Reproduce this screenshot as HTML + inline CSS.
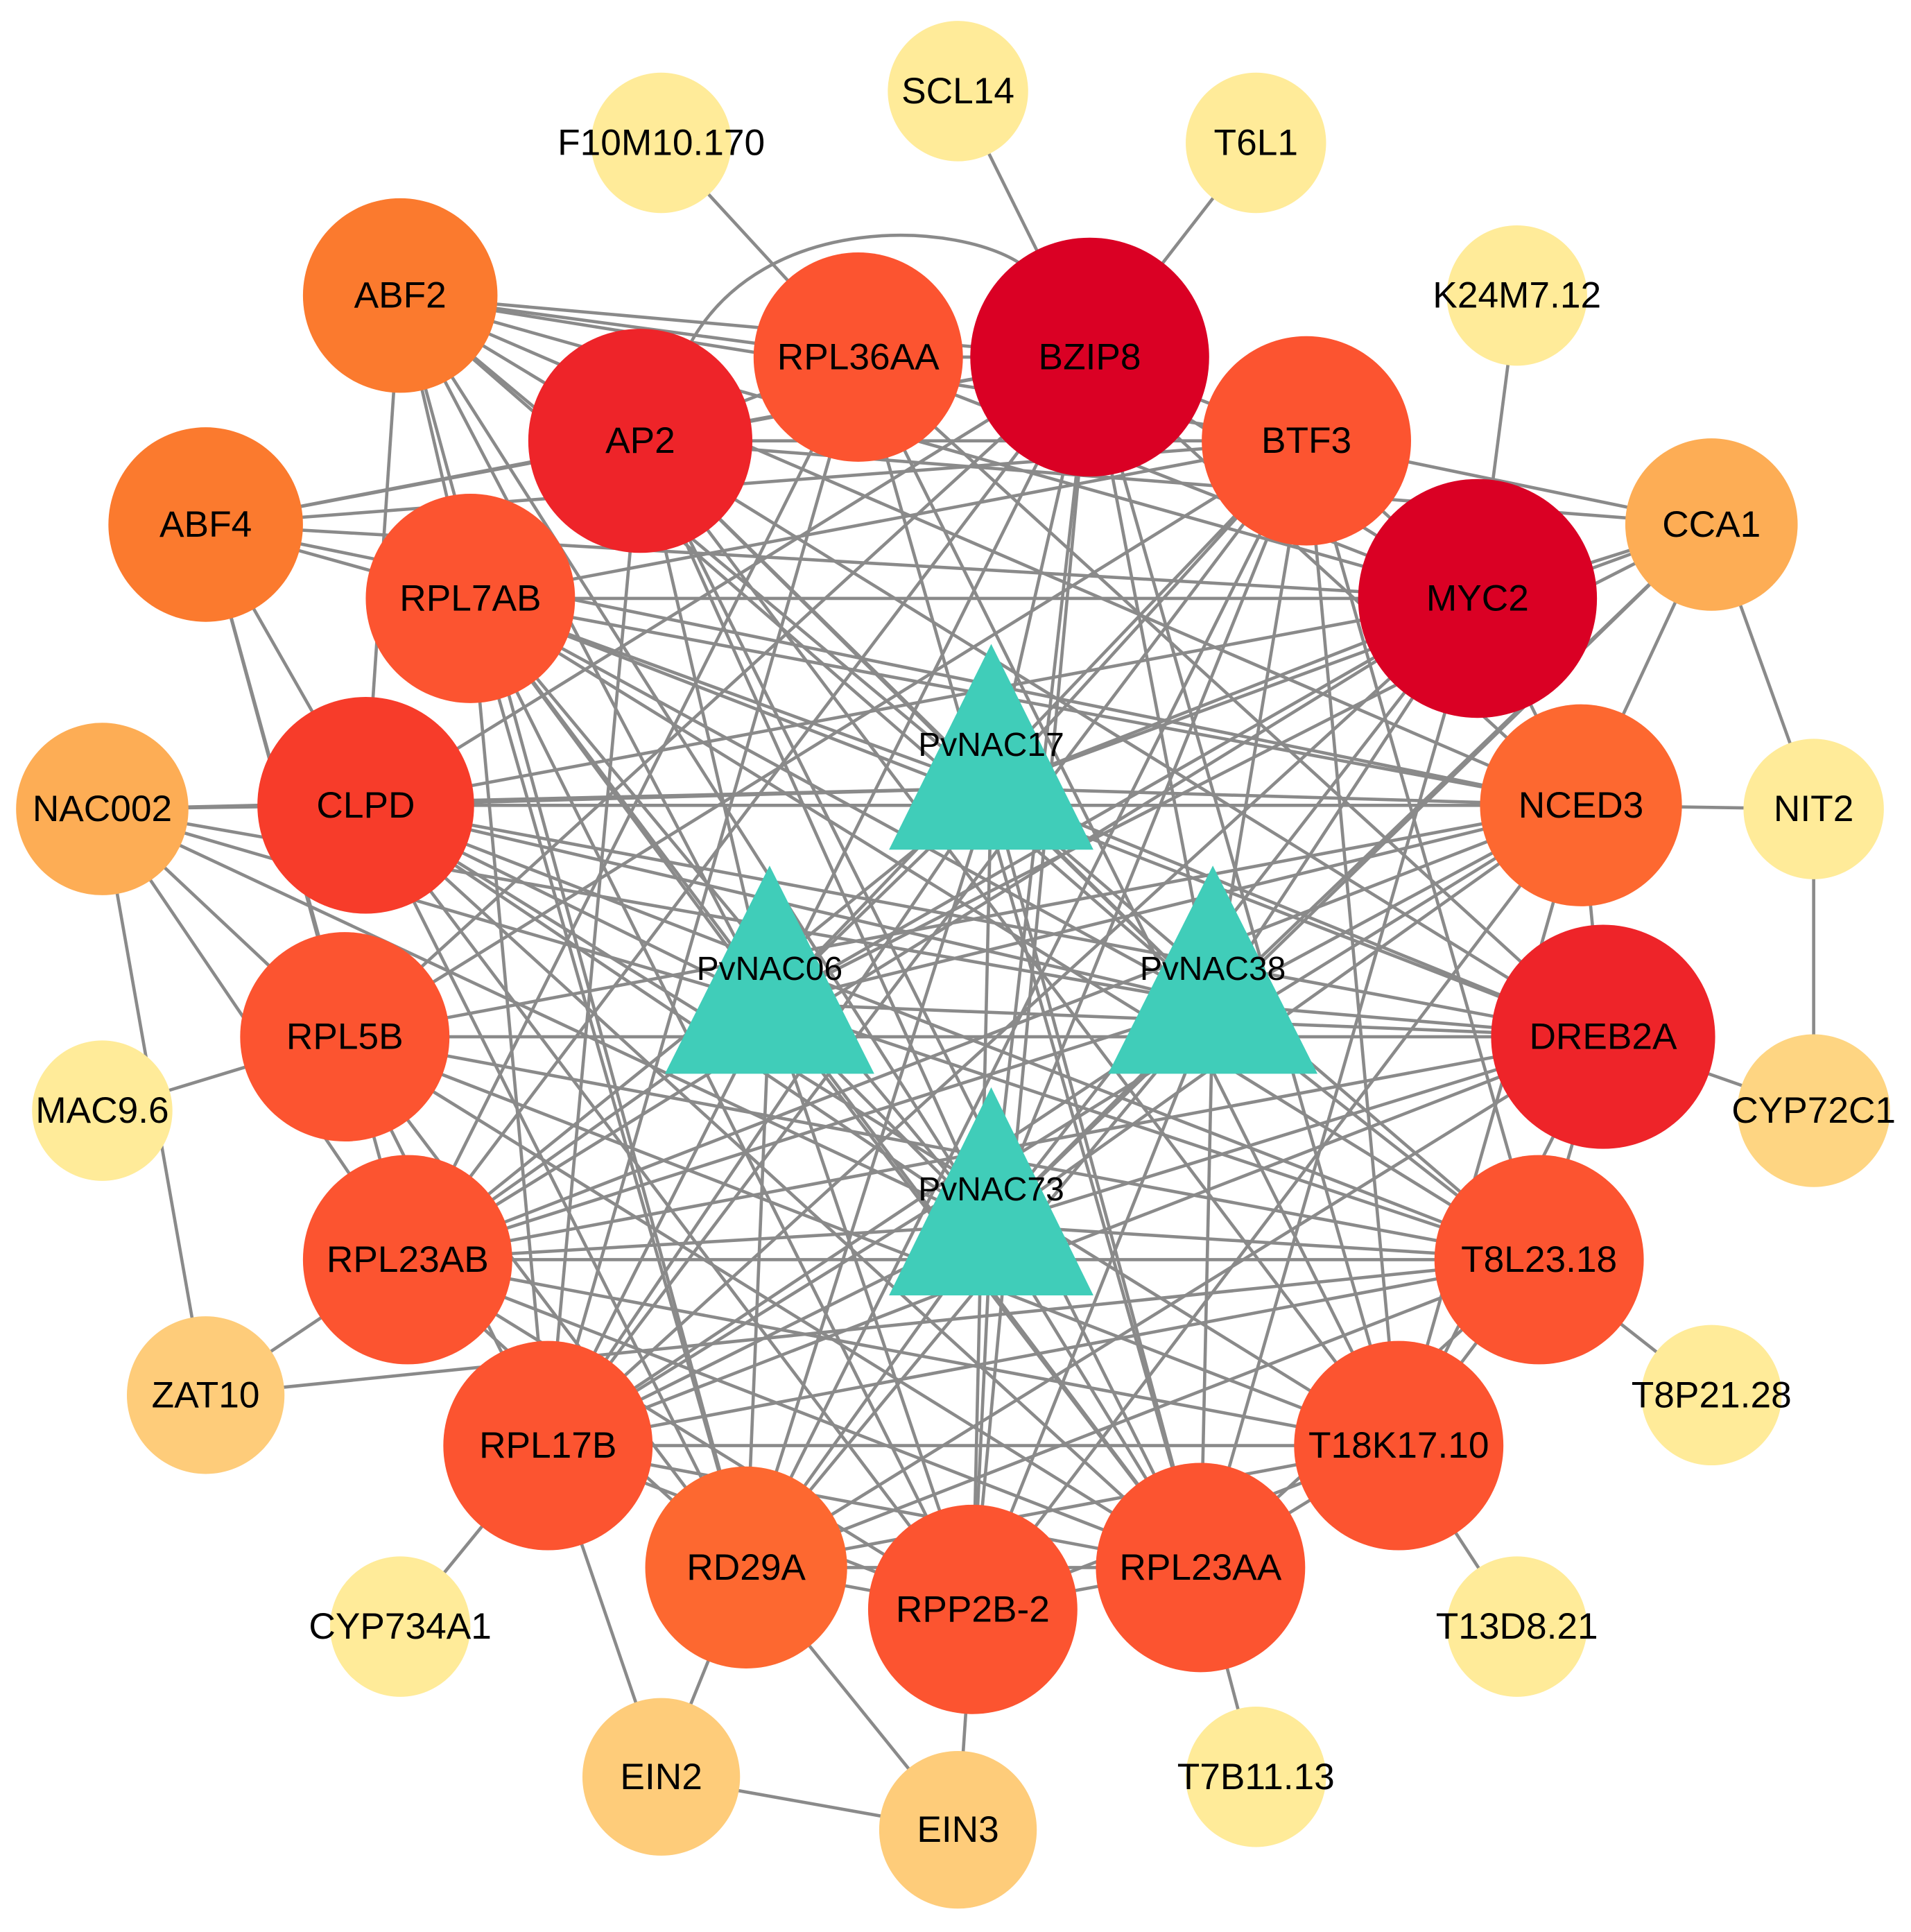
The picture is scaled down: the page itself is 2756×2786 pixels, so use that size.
<!DOCTYPE html>
<html><head><meta charset="utf-8">
<style>
html,body{margin:0;padding:0;background:#fff;}
svg{display:block;}
text{font-family:"Liberation Sans",Arial,sans-serif;font-size:30px;fill:#000;text-anchor:middle;dominant-baseline:central;}
</style></head>
<body>
<svg id="s" width="2756" height="2786" viewBox="0 0 1552 1569" xmlns="http://www.w3.org/2000/svg">
<g id="edges" stroke="#8a8a8a" stroke-width="2.6" fill="none"></g>
<g id="nodes"></g>
</svg>
<script>
const Y='#FFEB99';
const N={
'SCL14':[778,74,57,Y],'F10M10.170':[537,116,57,Y],'T6L1':[1020,116,57,Y],'K24M7.12':[1232,240,57,Y],
'ABF2':[325,240,79,'#FB7A2E'],'RPL36AA':[697,290,85,'#FC5430'],'BZIP8':[885,290,97,'#DA0024'],
'AP2':[520,358,91,'#EE2429'],'BTF3':[1061,358,85,'#FC5430'],'CCA1':[1390,426,70,'#FDAD55'],
'ABF4':[167,426,79,'#FB7A2E'],'RPL7AB':[382,486,85,'#FC5430'],'MYC2':[1200,486,97,'#DA0024'],
'NAC002':[83,657,70,'#FDAD55'],'CLPD':[297,654,88,'#F73C2A'],'NCED3':[1284,654,82,'#FD6830'],
'NIT2':[1473,657,57,Y],'RPL5B':[280,842,85,'#FC5430'],'DREB2A':[1302,842,91,'#EE2429'],
'MAC9.6':[83,902,57,Y],'CYP72C1':[1473,902,62,'#FED582'],'RPL23AB':[331,1023,85,'#FC5430'],
'T8L23.18':[1250,1023,85,'#FC5430'],'ZAT10':[167,1133,64,'#FECC7A'],'T8P21.28':[1390,1133,57,Y],
'RPL17B':[445,1174,85,'#FC5430'],'T18K17.10':[1136,1174,85,'#FC5430'],'CYP734A1':[325,1321,57,Y],
'T13D8.21':[1232,1321,57,Y],'RD29A':[606,1273,82,'#FD6830'],'RPP2B-2':[790,1307,85,'#FC5430'],
'RPL23AA':[975,1273,85,'#FC5430'],'EIN2':[537,1443,64,'#FECC7A'],'EIN3':[778,1486,64,'#FECC7A'],
'T7B11.13':[1020,1443,57,Y]
};
const T={'PvNAC17':[805,523,690,722,888,605],'PvNAC06':[625,703,872,540,710,787],
'PvNAC38':[985,703,872,900,1070,787],'PvNAC73':[805,883,1052,722,888,966]};
const TC={'PvNAC17':[805,640],'PvNAC06':[625,815],'PvNAC38':[985,815],'PvNAC73':[805,995]};
const inner=['ABF2','RPL36AA','BZIP8','AP2','BTF3','CCA1','ABF4','RPL7AB','MYC2','CLPD','NCED3','RPL5B','DREB2A','RPL23AB','T8L23.18','RPL17B','T18K17.10','RD29A','RPP2B-2','RPL23AA','NAC002','ZAT10'];
const E=[['F10M10.170','RPL36AA'],['SCL14','BZIP8'],['T6L1','BZIP8'],['K24M7.12','MYC2'],['CCA1','NIT2'],['NIT2','CYP72C1'],['NIT2','NCED3'],['CYP72C1','DREB2A'],['T8P21.28','T8L23.18'],['T13D8.21','T18K17.10'],['T7B11.13','RPL23AA'],['EIN3','RPP2B-2'],['EIN3','RD29A'],['EIN3','EIN2'],['EIN2','RD29A'],['EIN2','RPL17B'],['CYP734A1','RPL17B'],['NAC002','ZAT10'],['MAC9.6','RPL5B'],['NAC002','CLPD'],['NAC002','RPL5B'],['NAC002','RPL23AB'],['ZAT10','RPL23AB'],['ZAT10','T8L23.18'],['CCA1','MYC2'],['CCA1','BTF3'],['CCA1','AP2'],['CCA1','NCED3'],
['ABF2','RPL36AA'],['ABF2','BZIP8'],['ABF2','AP2'],['ABF2','RPL7AB'],['ABF2','CLPD'],['ABF2','BTF3'],['ABF2','MYC2'],['ABF2','RD29A'],['ABF2','NCED3'],
['ABF4','AP2'],['ABF4','RPL7AB'],['ABF4','CLPD'],['ABF4','RPL5B'],['ABF4','MYC2'],['ABF4','BTF3'],['ABF4','NCED3'],['ABF4','RPL23AB'],['ABF4','BZIP8'],
['AP2','BZIP8'],['AP2','RPL36AA'],['AP2','BTF3'],['AP2','RPL23AA'],['AP2','RPL17B'],['AP2','T18K17.10'],['AP2','DREB2A'],
['RPL36AA','BZIP8'],['RPL36AA','RPL23AA'],['RPL36AA','RPL17B'],['RPL36AA','T18K17.10'],['RPL36AA','DREB2A'],['RPL36AA','RPL23AB'],['RPL36AA','MYC2'],
['BZIP8','MYC2'],['BZIP8','BTF3'],['BZIP8','RPL5B'],['BZIP8','RPL23AB'],['BZIP8','RPP2B-2'],['BZIP8','T18K17.10'],['BZIP8','CLPD'],['BZIP8','NCED3'],
['BTF3','MYC2'],['BTF3','RPL5B'],['BTF3','RPL17B'],['BTF3','T18K17.10'],['BTF3','RPL7AB'],['BTF3','RD29A'],['BTF3','T8L23.18'],
['MYC2','RPL23AB'],['MYC2','RPL7AB'],['MYC2','RPL17B'],['MYC2','NCED3'],['MYC2','CLPD'],['MYC2','RPL23AA'],
['RPL7AB','NCED3'],['RPL7AB','RPL23AA'],['RPL7AB','RPP2B-2'],['RPL7AB','RPL17B'],['RPL7AB','T8L23.18'],['RPL7AB','DREB2A'],['RPL7AB','RD29A'],
['CLPD','NCED3'],['CLPD','DREB2A'],['CLPD','T18K17.10'],['CLPD','RD29A'],['CLPD','RPL23AA'],['CLPD','RPP2B-2'],['CLPD','T8L23.18'],
['NCED3','RPL5B'],['NCED3','RPL23AB'],['NCED3','DREB2A'],['NCED3','RPL17B'],['NCED3','T18K17.10'],['NCED3','RPP2B-2'],
['DREB2A','RPL5B'],['DREB2A','RPL23AB'],['DREB2A','RPL17B'],['DREB2A','T8L23.18'],['DREB2A','RD29A'],['DREB2A','T18K17.10'],
['RPL5B','T8L23.18'],['RPL5B','RD29A'],['RPL5B','RPL23AA'],['RPL5B','T18K17.10'],['RPL5B','RPL17B'],
['RPL23AB','T8L23.18'],['RPL23AB','T18K17.10'],['RPL23AB','RPL23AA'],['RPL23AB','RPP2B-2'],['RPL23AB','RD29A'],
['T8L23.18','RPL17B'],['T8L23.18','RD29A'],['T8L23.18','RPL23AA'],['T8L23.18','T18K17.10'],
['RPL17B','T18K17.10'],['RPL17B','RPL23AA'],['RPL17B','RPP2B-2'],['T18K17.10','RD29A'],['T18K17.10','RPP2B-2'],['T18K17.10','RPL23AA'],
['RD29A','RPP2B-2'],['RPP2B-2','RPL23AA'],['RD29A','RPL23AA']];
const eg=document.getElementById('edges'),ng=document.getElementById('nodes');
const ns='http://www.w3.org/2000/svg';
function ln(a,b,c,d){const l=document.createElementNS(ns,'line');l.setAttribute('x1',a);l.setAttribute('y1',b);l.setAttribute('x2',c);l.setAttribute('y2',d);eg.appendChild(l);}
E.forEach(([a,b])=>{const p=N[a],q=N[b];ln(p[0],p[1],q[0],q[1]);});
for(const t in TC){const c=TC[t];inner.forEach((k,i)=>{if((i+t.length)%5!==3)ln(c[0],c[1],N[k][0],N[k][1]);});}
ln(805,640,625,815);ln(805,640,985,815);ln(625,815,805,995);ln(985,815,805,995);
const pa=document.createElementNS(ns,'path');pa.setAttribute('d','M560 280 C620 170 780 180 830 215');eg.appendChild(pa);
for(const k in N){const n=N[k];const c=document.createElementNS(ns,'circle');c.setAttribute('cx',n[0]);c.setAttribute('cy',n[1]);c.setAttribute('r',n[2]);c.setAttribute('fill',n[3]);ng.appendChild(c);
const t=document.createElementNS(ns,'text');t.setAttribute('x',n[0]);t.setAttribute('y',n[1]);t.textContent=k;ng.appendChild(t);}
for(const k in T){const t=T[k];const p=document.createElementNS(ns,'polygon');p.setAttribute('points',`${t[0]},${t[1]} ${t[3]},${t[2]} ${t[4]},${t[2]}`);p.setAttribute('fill','#40CDB9');ng.appendChild(p);
const x=document.createElementNS(ns,'text');x.setAttribute('x',t[0]);x.setAttribute('y',t[5]);x.setAttribute('style','font-size:27px');x.textContent=k;ng.appendChild(x);}
</script>
</body></html>
